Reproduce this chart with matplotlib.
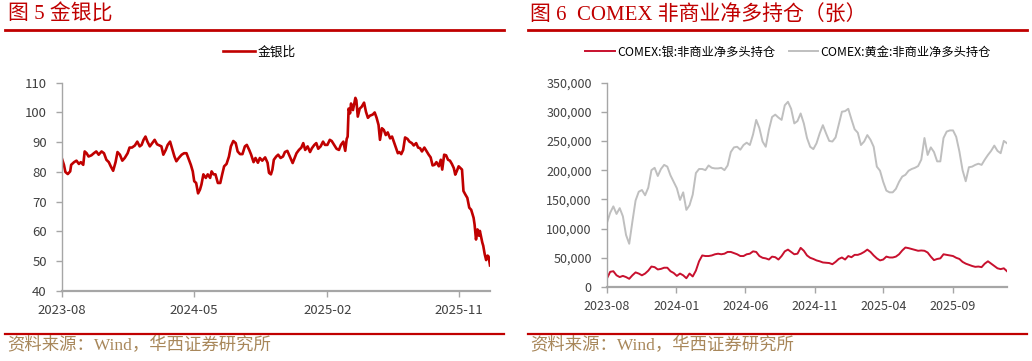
import pandas as pd
import matplotlib
matplotlib.use('Agg')
import matplotlib.pyplot as plt
import matplotlib.dates as mdates
from matplotlib.lines import Line2D
from matplotlib.ticker import FuncFormatter, MultipleLocator

plt.rcParams['font.family'] = ['Noto Sans CJK SC', 'DejaVu Sans']

# 图5 金银比 (daily; days counted from start date)
ratio_start = '2023-08-01'
ratio_days = [
    0, 4, 7, 12, 17, 19, 25, 30, 35, 39,
    44, 47, 51, 55, 61, 66, 71, 76, 82, 87,
    92, 97, 101, 106, 111, 115, 120, 125, 130, 136,
    140, 145, 151, 156, 161, 165, 169, 173, 177, 182,
    187, 192, 197, 202, 206, 210, 215, 219, 224, 228,
    233, 237, 242, 248, 253, 258, 263, 267, 271, 274,
    278, 282, 286, 289, 293, 298, 302, 307, 310, 314,
    318, 323, 328, 332, 336, 341, 346, 350, 355, 360,
    364, 369, 374, 379, 383, 388, 392, 397, 401, 406,
    410, 415, 421, 426, 429, 433,
    436, 439, 444, 448, 453, 458, 462, 467, 472, 478,
    482, 486, 491, 496, 500, 504, 509, 514, 518, 523,
    527, 531, 536, 541, 545, 550, 555, 559, 564, 569,
    574, 578, 583, 587, 590, 592, 594, 597, 599, 603,
    608, 610, 613, 617, 621, 626, 630, 634, 638, 644,
    648, 652, 656, 659, 663, 667, 671, 675, 680, 684,
    688, 692, 696, 699, 703, 707, 711, 716, 720, 725,
    729, 734, 738, 742, 746, 751, 756, 760, 764, 768,
    772, 776, 781, 785, 788, 792, 796, 800, 804, 808,
    812, 815, 818, 822, 826, 829, 832, 836, 840, 844,
    848, 853, 855, 858, 861, 864, 866, 871, 873, 876,
    879, 882, 884, 887,
]
ratio_vals = [
    84.4, 82.4, 80.0, 79.3, 80.2, 82.4, 83.3, 83.8, 82.7, 83.3,
    82.4, 86.9, 86.3, 85.2, 85.6, 86.3, 86.9, 85.8, 86.9, 86.3,
    84.1, 83.3, 81.9, 80.4, 83.3, 86.7, 85.8, 83.8, 84.7, 86.3,
    88.2, 88.2, 88.9, 90.2, 88.6, 89.1, 90.8, 91.9, 90.2, 88.6,
    89.7, 90.8, 89.3, 88.9, 88.6, 85.8, 87.4, 89.1, 90.2, 88.0,
    85.2, 83.6, 84.7, 85.8, 86.3, 86.3, 84.1, 82.4, 80.2, 76.9,
    76.3, 72.8, 74.1, 75.8, 79.2, 78.0, 79.2, 78.0, 80.2, 79.2,
    79.2, 76.3, 76.3, 79.2, 81.9, 82.7, 85.2, 88.6, 90.4, 89.7,
    86.9, 86.0, 86.0, 88.6, 89.1, 87.4, 85.8, 83.3, 84.7, 83.1,
    84.7, 83.8, 84.9, 83.1, 79.7, 79.2,
    80.8, 84.1, 85.2, 85.8, 84.7, 85.2, 86.7, 87.1, 85.2, 83.0,
    84.7, 86.3, 87.4, 88.2, 89.7, 87.4, 88.6, 86.7, 88.0, 89.1,
    89.7, 87.8, 88.6, 90.2, 89.1, 89.1, 90.8, 90.4, 89.1, 87.8,
    87.4, 89.1, 90.2, 87.1, 91.1, 91.9, 101.3, 99.7, 103.0, 100.8,
    104.9, 104.1, 98.6, 101.3, 101.9, 103.3, 100.2, 98.2, 98.9, 99.3,
    100.0, 98.2, 95.8, 90.8, 94.7, 94.1, 92.4, 93.3, 91.3, 91.9,
    90.0, 88.2, 86.3, 86.7, 86.0, 87.4, 91.6, 91.1, 90.2, 89.7,
    88.9, 89.7, 88.2, 88.0, 86.9, 88.2, 86.9, 85.8, 84.9, 82.2,
    82.4, 83.3, 81.9, 84.1, 80.8, 85.8, 85.6, 84.1, 83.8, 82.7,
    81.3, 79.1, 80.2, 81.9, 81.3, 80.8, 73.6, 72.4, 71.3, 68.0,
    67.3, 64.6, 62.4, 57.3, 60.7, 58.6, 60.2, 56.3, 55.2, 52.4,
    50.4, 51.9, 51.6, 48.6,
]
ratio_ticks = ['2023-08-01', '2024-05-01', '2025-02-01', '2025-11-01']

# 图6 COMEX 非商业净多持仓 (weekly, contracts)
cot_start = '2023-08-01'
silver_net = [
    14800, 26000, 27000, 20000, 17000, 19000, 17000, 14000, 20000, 25000,
    23000, 20000, 23000, 28000, 35000, 34000, 30000, 31000, 33000, 33000,
    27000, 24000, 19000, 23000, 20000, 15000, 23000, 18000, 28000, 44000,
    54000, 53000, 53000, 54000, 56000, 57000, 56000, 57000, 60000, 60000,
    58000, 56000, 53000, 53000, 56000, 57000, 61000, 60000, 53000, 50000,
    49000, 47000, 52000, 51000, 47000, 53000, 61000, 64000, 60000, 56000,
    57000, 67000, 62000, 54000, 50000,
    48000, 45500, 44000, 42000, 41500, 41000, 39000, 43000, 48000, 50500,
    47000, 53000, 51000, 55000, 55000, 57000, 60000, 64000, 60000, 54000,
    49000, 45500, 47000, 52000, 50500, 50500, 52000, 56000, 62500, 67600,
    66500, 65000, 63500, 62000, 62500, 62000, 59000, 52000, 46000, 48000,
    49000, 56000, 55000, 54000, 53000, 50000, 48000, 43000, 40000, 38000,
    36000, 34500, 35000, 34000, 40000, 44000, 40000, 36000, 32000, 30600,
    32000, 27000,
]
gold_net = [
    110000, 127000, 138000, 125000, 135000, 121000, 89000, 74000, 112000, 148000,
    163000, 166000, 157000, 170000, 200000, 204000, 190000, 202000, 209000, 206000,
    191000, 180000, 169000, 149000, 162000, 132000, 140000, 158000, 195000, 202000,
    202000, 200000, 208000, 204000, 203000, 203000, 204000, 200000, 208000, 231000,
    239000, 240000, 235000, 243000, 247000, 243000, 261000, 286000, 272000, 249000,
    240000, 269000, 291000, 295000, 290000, 286000, 311000, 317000, 305000, 280000,
    284000, 297000, 280000, 255000, 240000,
    236000, 246000, 263000, 277000, 263000, 250000, 249000, 256000, 278000, 300000,
    301000, 305000, 287000, 270000, 264000, 243000, 249000, 260000, 252000, 240000,
    206000, 199000, 180000, 165000, 162000, 162000, 168000, 180000, 189000, 192000,
    199000, 202000, 204000, 207000, 218000, 255000, 226000, 239000, 231000, 215000,
    215000, 255000, 266000, 268000, 268000, 257000, 232000, 200000, 181000, 205000,
    206000, 209000, 211000, 209000, 218000, 226000, 233000, 242000, 233000, 229000,
    250000, 246000,
]
cot_ticks = ['2023-08-01', '2024-01-01', '2024-06-01', '2024-11-01', '2025-04-01', '2025-09-01']

RED = '#C00000'
TAN = '#A8875A'
W, H = 1032, 361

fig = plt.figure(figsize=(W / 100, H / 100), dpi=100)


def style(ax):
    for s in ['top', 'right']:
        ax.spines[s].set_visible(False)
    ax.spines['left'].set_color('#A6A6A6')
    ax.spines['left'].set_linewidth(1.0)
    ax.spines['bottom'].set_color('#A6A6A6')
    ax.spines['bottom'].set_linewidth(1.6)
    ax.tick_params(axis='both', colors='#A6A6A6', labelcolor='#404040',
                   length=4, width=1)
    ax.tick_params(axis='y', pad=7)
    ax.tick_params(axis='x', pad=5)
    ax.xaxis.set_major_formatter(mdates.DateFormatter('%Y-%m'))


# ---- left: gold/silver ratio
ax1 = fig.add_axes([62 / W, 1 - 291 / H, 428 / W, 208.3 / H])
ratio_dates = pd.Timestamp(ratio_start) + pd.to_timedelta(ratio_days, unit='D')
ax1.plot(ratio_dates, ratio_vals, color=RED, lw=1.9, label='金银比')
ax1.set_xlim(ratio_dates[0], ratio_dates[-1])
ax1.set_ylim(40, 110)
ax1.yaxis.set_major_locator(MultipleLocator(10))
ax1.set_xticks(pd.to_datetime(ratio_ticks))
style(ax1)
ax1.tick_params(labelsize=9.5)
ax1.legend(loc='center', bbox_to_anchor=(259.5 / W, 1 - 52 / H),
           bbox_transform=fig.transFigure, frameon=False, fontsize=9.2,
           handlelength=2.5, handletextpad=0.2)

# ---- right: COMEX net long
ax2 = fig.add_axes([607 / W, 1 - 287 / H, 400 / W, 204.5 / H])
cot_dates = pd.date_range(cot_start, periods=len(gold_net), freq='7D')
ax2.plot(cot_dates, silver_net, color='#C8102E', lw=1.4,
         label='COMEX:银:非商业净多头持仓')
ax2.plot(cot_dates, gold_net, color='#BFBFBF', lw=1.4,
         label='COMEX:黄金:非商业净多头持仓')
ax2.set_xlim(cot_dates[0], cot_dates[-1])
ax2.set_ylim(0, 350000)
ax2.yaxis.set_major_locator(MultipleLocator(50000))
ax2.yaxis.set_major_formatter(FuncFormatter(lambda v, p: f'{v:,.0f}'))
ax2.set_xticks(pd.to_datetime(cot_ticks))
style(ax2)
ax2.tick_params(labelsize=9)
ax2.legend(loc='center', bbox_to_anchor=(788 / W, 1 - 52 / H),
           bbox_transform=fig.transFigure, frameon=False, fontsize=8.8, ncol=2,
           handlelength=2.4, handletextpad=0.2, columnspacing=1.1)

# ---- titles, rules, sources
title_font = ['Liberation Serif', 'Noto Sans CJK SC']
fig.text(8 / W, 1 - 15 / H, '图 5 金银比', color=RED, fontsize=15,
         family=title_font, va='center', ha='left')
fig.text(530 / W, 1 - 15 / H, '图 6  COMEX 非商业净多持仓（张）', color=RED,
         fontsize=15, family=title_font, va='center', ha='left')
for x0, x1 in [(5, 504), (528, 1027)]:
    fig.add_artist(Line2D([x0 / W, x1 / W], [1 - 29.5 / H] * 2, color=RED, lw=2))
    fig.add_artist(Line2D([x0 / W, x1 / W], [1 - 333.5 / H] * 2, color=RED, lw=1.6))
for x0 in [7, 530]:
    fig.text(x0 / W, 1 - 346 / H, '资料来源：Wind，华西证券研究所', color=TAN,
             fontsize=12.5, family=title_font, va='center', ha='left')

fig.savefig('out.png', dpi=100)
